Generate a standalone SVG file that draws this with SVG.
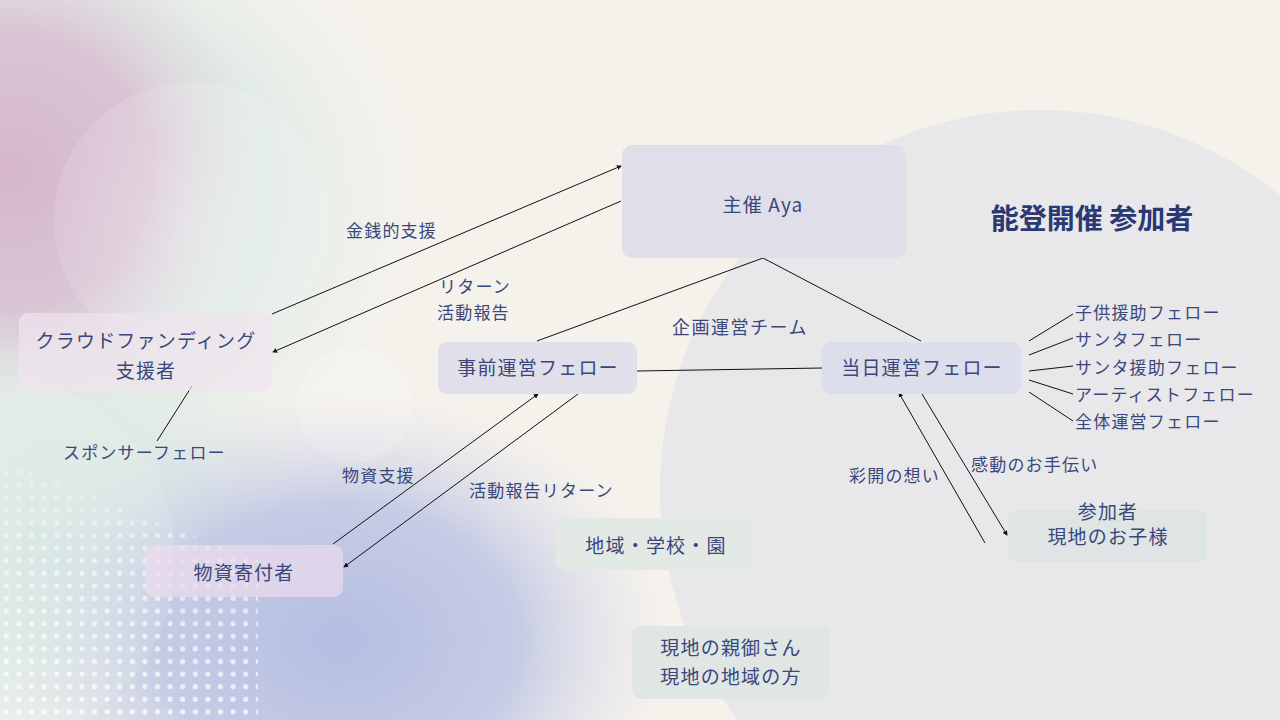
<svg xmlns="http://www.w3.org/2000/svg" width="1280" height="720" viewBox="0 0 1280 720">
<defs>
<style>
.t{font-family:"Noto Sans CJK JP","Noto Sans",sans-serif;fill:#3a477c;}
.n{font-size:19px;letter-spacing:1.2px;text-anchor:middle;}
.l{font-size:17px;letter-spacing:1.2px;}
.c{stroke:#111;stroke-width:1;fill:none;}
</style>
<marker id="ah" viewBox="0 0 6 6" refX="5" refY="3" markerWidth="5" markerHeight="5" orient="auto" markerUnits="userSpaceOnUse"><path d="M0,0 L6,3 L0,6 z" fill="#111"/></marker>
<radialGradient id="gPink" cx="0.5" cy="0.5" r="0.5"><stop offset="0" stop-color="#d6b6cd"/><stop offset="0.55" stop-color="#d9bed1" stop-opacity="0.85"/><stop offset="1" stop-color="#e2d6de" stop-opacity="0"/></radialGradient>
<radialGradient id="gMint" cx="0.5" cy="0.5" r="0.5"><stop offset="0" stop-color="#d3e5e1"/><stop offset="0.6" stop-color="#dae8e4" stop-opacity="0.75"/><stop offset="1" stop-color="#e6eee9" stop-opacity="0"/></radialGradient>
<radialGradient id="gBlue" cx="0.5" cy="0.5" r="0.5"><stop offset="0" stop-color="#b4bde2"/><stop offset="0.55" stop-color="#bfc6e4" stop-opacity="0.85"/><stop offset="1" stop-color="#dcdce9" stop-opacity="0"/></radialGradient>
<radialGradient id="gLight" cx="0.5" cy="0.5" r="0.5"><stop offset="0" stop-color="#ffffff" stop-opacity="0.3"/><stop offset="1" stop-color="#ffffff" stop-opacity="0.12"/></radialGradient>
<pattern id="dots" x="0" y="0" width="12.6" height="12.6" patternUnits="userSpaceOnUse"><circle cx="6.3" cy="6.3" r="2.6" fill="#ffffff"/></pattern>
<linearGradient id="dotFade" x1="0" y1="0" x2="0" y2="1"><stop offset="0" stop-color="#fff" stop-opacity="0.2"/><stop offset="0.4" stop-color="#fff" stop-opacity="0.55"/><stop offset="1" stop-color="#fff" stop-opacity="0.75"/></linearGradient>
<mask id="dotMask"><rect x="0" y="460" width="270" height="260" fill="url(#dotFade)"/></mask>
</defs>

<g id="background">
<rect width="1280" height="720" fill="#f5f2ec"/>
<ellipse cx="60" cy="200" rx="360" ry="320" fill="url(#gMint)"/>
<ellipse cx="10" cy="170" rx="250" ry="250" fill="url(#gPink)"/>
<ellipse cx="60" cy="560" rx="280" ry="230" fill="url(#gMint)"/>
<ellipse cx="340" cy="640" rx="330" ry="250" fill="url(#gBlue)"/>
<circle cx="192" cy="220" r="138" fill="url(#gLight)"/>
<circle cx="355" cy="405" r="58" fill="#ffffff" opacity="0.15"/>
<circle cx="-10" cy="560" r="185" fill="#ffffff" opacity="0.1"/>
<circle cx="1040" cy="490" r="380" fill="#e8e7e9"/>
<g mask="url(#dotMask)"><polygon points="0,458 30,470 150,520 258,560 258,720 0,720" fill="url(#dots)"/></g>
</g>

<g id="connectors">
<line class="c" x1="272" y1="314" x2="621" y2="166" marker-end="url(#ah)"/>
<line class="c" x1="621" y1="201" x2="273" y2="352" marker-end="url(#ah)"/>
<polyline class="c" points="537,341 763,258 921,341"/>
<line class="c" x1="637" y1="371" x2="822" y2="368"/>
<line class="c" x1="157" y1="441" x2="192" y2="386"/>
<line class="c" x1="333" y1="544" x2="538" y2="394" marker-end="url(#ah)"/>
<line class="c" x1="578" y1="394" x2="344" y2="567" marker-end="url(#ah)"/>
<line class="c" x1="985" y1="543" x2="899" y2="393" marker-end="url(#ah)"/>
<line class="c" x1="922" y1="394" x2="1007" y2="535" marker-end="url(#ah)"/>
<line class="c" x1="1029" y1="341" x2="1073" y2="314"/>
<line class="c" x1="1029" y1="355" x2="1073" y2="338"/>
<line class="c" x1="1029" y1="371" x2="1073" y2="366"/>
<line class="c" x1="1029" y1="380" x2="1073" y2="394"/>
<line class="c" x1="1029" y1="392" x2="1073" y2="421"/>
</g>

<g id="node-aya">
<rect x="622" y="145" width="284" height="113" rx="10" fill="#e0dfe9"/>
<text class="t n" x="763" y="212">主催 Aya</text>
</g>
<g id="node-crowdfunding">
<rect x="19" y="313" width="253" height="78" rx="9" fill="#f0e4ee" opacity="0.7"/>
<text class="t n" x="146" y="348">クラウドファンディング</text>
<text class="t n" x="146" y="378">支援者</text>
</g>
<g id="node-jizen">
<rect x="438" y="342" width="199" height="52" rx="9" fill="#e1e0ea"/>
<text class="t n" x="538" y="375">事前運営フェロー</text>
</g>
<g id="node-toujitsu">
<rect x="822" y="342" width="199" height="52" rx="9" fill="#dcdeeb"/>
<text class="t n" x="922" y="375">当日運営フェロー</text>
</g>
<g id="node-busshi">
<rect x="145" y="545" width="198" height="52" rx="9" fill="#ecdcec" opacity="0.7"/>
<text class="t n" x="244" y="580">物資寄付者</text>
</g>
<g id="node-chiiki">
<rect x="556" y="518" width="199" height="52" rx="9" fill="#e3e9e5"/>
<text class="t n" x="656" y="553">地域・学校・園</text>
</g>
<g id="node-oyago">
<rect x="632" y="626" width="198" height="73" rx="9" fill="#dfe6e4"/>
<text class="t n" x="731" y="655">現地の親御さん</text>
<text class="t n" x="731" y="684">現地の地域の方</text>
</g>
<g id="node-sankasha">
<rect x="1008" y="510" width="199" height="52" rx="9" fill="#dfe5e5"/>
<text class="t n" x="1108" y="519">参加者</text>
<text class="t n" x="1108" y="544">現地のお子様</text>
</g>
<g id="title">
<text class="t" x="1092" y="229" font-size="28" font-weight="bold" text-anchor="middle" style="fill:#2b3872">能登開催 参加者</text>
</g>
<g id="labels">
<text class="t l" x="346" y="237">金銭的支援</text>
<text class="t l" x="439" y="293">リターン</text>
<text class="t l" x="437" y="319">活動報告</text>
<text class="t" x="672" y="334" font-size="18" letter-spacing="1.5">企画運営チーム</text>
<text class="t l" x="63" y="459">スポンサーフェロー</text>
<text class="t l" x="342" y="482">物資支援</text>
<text class="t l" x="469" y="497">活動報告リターン</text>
<text class="t l" x="849" y="482">彩開の想い</text>
<text class="t l" x="971" y="471">感動のお手伝い</text>
<text class="t l" x="1075" y="319">子供援助フェロー</text>
<text class="t l" x="1075" y="346">サンタフェロー</text>
<text class="t l" x="1075" y="374">サンタ援助フェロー</text>
<text class="t l" x="1075" y="401">アーティストフェロー</text>
<text class="t l" x="1075" y="428">全体運営フェロー</text>
</g>
</svg>
